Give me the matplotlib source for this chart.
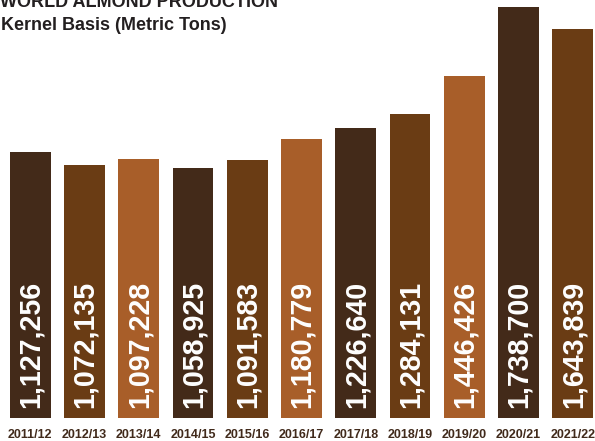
import matplotlib
matplotlib.use("Agg")
import matplotlib.pyplot as plt

seasons = ["2011/12", "2012/13", "2013/14", "2014/15", "2015/16", "2016/17",
           "2017/18", "2018/19", "2019/20", "2020/21", "2021/22"]
production = [1127256, 1072135, 1097228, 1058925, 1091583, 1180779,
              1226640, 1284131, 1446426, 1738700, 1643839]
palette = ["#432a19", "#6a3c14", "#a85e29"]
title_lines = ["WORLD ALMOND PRODUCTION", "Kernel Basis (Metric Tons)"]

plt.rcParams['font.family'] = ['Liberation Sans', 'DejaVu Sans']

W, H, DPI = 595, 441, 100
fig = plt.figure(figsize=(W / DPI, H / DPI), dpi=DPI)
base_px = 23  # baseline distance from bottom of figure
ax = fig.add_axes([0, base_px / H, 1, 1 - base_px / H])

colors = [palette[i % 3] for i in range(len(seasons))]
x = list(range(len(seasons)))
ax.bar(x, production, width=0.755, color=colors, linewidth=0)

px_per_unit = 411 / 1738700
ymax = (H - base_px) / px_per_unit
ax.set_ylim(0, ymax)
spacing = 54.24
c0 = 30.3
ax.set_xlim(-c0 / spacing, (W - c0) / spacing)

for xi, v in zip(x, production):
    ax.annotate(f"{v:,}", xy=(xi, 0), xytext=(0.7, 10), textcoords='offset pixels',
                rotation=90, ha='center', va='bottom', color='white',
                fontsize=20.6, fontweight='bold')

ax.set_xticks(x)
ax.set_xticklabels(seasons, fontsize=9, fontweight='bold', color='#412a1b')
ax.tick_params(axis='x', length=0, pad=8)
ax.set_yticks([])
for s in ax.spines.values():
    s.set_visible(False)
ax.patch.set_alpha(0)

fig.text(0 / W, 1 - 7 / H, title_lines[0], fontsize=13, fontweight='bold',
         color='#231f20', ha='left', va='baseline')
fig.text(1 / W, 1 - 30 / H, title_lines[1], fontsize=13, fontweight='bold',
         color='#231f20', ha='left', va='baseline')

fig.savefig("out.png", dpi=DPI)
